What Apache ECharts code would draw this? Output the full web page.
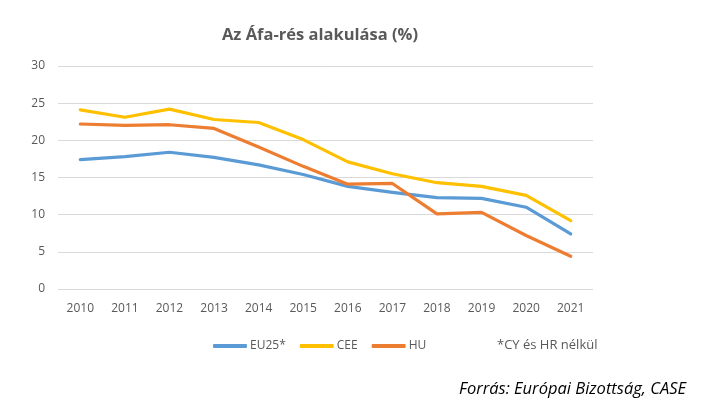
<!DOCTYPE html>
<html>
<head>
<meta charset="utf-8">
<script src="https://cdn.jsdelivr.net/npm/echarts@6/dist/echarts.min.js"></script>
<style>
html,body{margin:0;padding:0;background:#fff;}
#chart{width:727px;height:420px;}
</style>
</head>
<body>
<div id="chart"></div>
<script>
const years = ['2010','2011','2012','2013','2014','2015','2016','2017','2018','2019','2020','2021'];
const eu25 = [17.4, 17.8, 18.4, 17.7, 16.7, 15.4, 13.8, 13.0, 12.3, 12.2, 11.0, 7.4];
const cee  = [24.1, 23.1, 24.2, 22.8, 22.4, 20.1, 17.1, 15.5, 14.3, 13.8, 12.6, 9.2];
const hu   = [22.2, 22.0, 22.1, 21.6, 19.1, 16.5, 14.1, 14.2, 10.1, 10.3, 7.2, 4.4];
const seriesNames = ['EU25*', 'CEE', 'HU'];
const titleText = 'Az Áfa-rés alakulása (%)';
const footnote = '*CY és HR nélkül';
const source = 'Forrás: Európai Bizottság, CASE';

const font = '"Open Sans", "Noto Sans", sans-serif';
const colors = ['#5B9BD5', '#FFC000', '#ED7D31'];
const chart = echarts.init(document.getElementById('chart'), null, {renderer: 'canvas'});
const mk = (name, data, color) => ({
  name, type: 'line', data, showSymbol: false, symbol: 'none',
  lineStyle: {color, width: 3.2, cap: 'round', join: 'round'},
  itemStyle: {color}
});
chart.setOption({
  animation: false,
  backgroundColor: '#fff',
  title: {
    text: titleText, left: 315, top: 22, textAlign: 'center',
    textStyle: {fontFamily: font, fontSize: 16.5, fontWeight: 'bold', color: '#595959'}
  },
  grid: {left: 58, right: 134, top: 66, bottom: 131, containLabel: false},
  xAxis: {
    type: 'category', data: years, boundaryGap: true,
    axisLine: {show: false}, axisTick: {show: false},
    axisLabel: {fontFamily: font, fontSize: 12, color: '#595959', margin: 14}
  },
  yAxis: {
    type: 'value', min: 0, max: 30, interval: 5,
    axisLine: {show: false}, axisTick: {show: false},
    axisLabel: {fontFamily: font, fontSize: 12, color: '#595959', margin: 13},
    splitLine: {lineStyle: {color: '#D9D9D9', width: 1}}
  },
  legend: {
    left: 208, top: 335, itemWidth: 34, itemHeight: 4, itemGap: 14,
    icon: 'roundRect',
    textStyle: {fontFamily: font, fontSize: 12, color: '#595959', padding: [0,0,0,-2]},
    data: seriesNames
  },
  graphic: [
    {type: 'text', left: 497, top: 339, style: {text: footnote, font: '13px ' + font, fill: '#595959'}},
    {type: 'text', left: 459, top: 381, style: {text: source, font: 'italic 16.5px ' + font, fill: '#000'}}
  ],
  series: [mk(seriesNames[0], eu25, colors[0]), mk(seriesNames[1], cee, colors[1]), mk(seriesNames[2], hu, colors[2])]
});
</script>
</body>
</html>
